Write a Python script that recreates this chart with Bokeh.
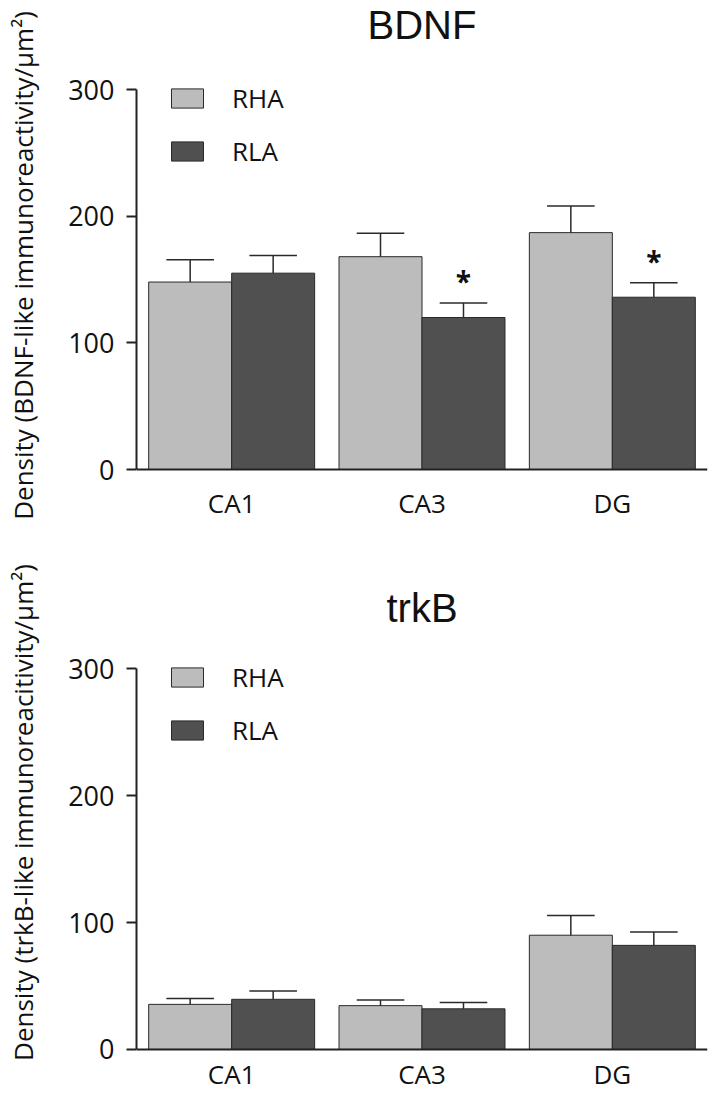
from bokeh.plotting import figure
from bokeh.models import ColumnDataSource, FactorRange, Range1d, FixedTicker, Legend, LegendItem, Span
from bokeh.transform import dodge
from bokeh.layouts import column
from bokeh.core.properties import value
from bokeh.embed import file_html
from bokeh.resources import INLINE

categories = ["CA1", "CA3", "DG"]
groups = ["RHA", "RLA"]

bdnf_rha = [148, 168, 187]
bdnf_rha_sem = [17.5, 18.5, 21]
bdnf_rla = [155, 120, 136]
bdnf_rla_sem = [14, 11.5, 11.5]
bdnf_sig = ["", "*", "*"]

trkb_rha = [35.5, 34.5, 90]
trkb_rha_sem = [4.7, 4.4, 15.5]
trkb_rla = [39.5, 32, 82]
trkb_rla_sem = [6.5, 5, 10.5]
trkb_sig = ["", "", ""]

y_ticks = [0, 100, 200, 300]
y_max = 300

RHA_COLOR = "#bcbcbc"
RLA_COLOR = "#505050"
EDGE = "#2a2a2a"
TXT = "#111111"
FONT = "Open Sans"
BAR_W = 0.436
OFF = 0.218
CAP = 0.125
PX = 380 / 300.0  # pixels per data unit


def make_panel(title, ylabel, rha, rha_sem, rla, rla_sem, sig, height,
               px_above, px_below, title_dy, label_dy, legend_y):
    y0 = -px_below / PX
    y1 = y_max + px_above / PX
    p = figure(x_range=FactorRange(*categories), y_range=Range1d(y0, y1),
               width=709, height=height, output_backend="svg", toolbar_location=None,
               x_axis_location=None,
               min_border_left=136, min_border_right=2, min_border_top=0,
               min_border_bottom=0)

    src = ColumnDataSource(dict(
        cat=categories,
        rha=rha, rha_up=[v + e for v, e in zip(rha, rha_sem)],
        rla=rla, rla_up=[v + e for v, e in zip(rla, rla_sem)],
        sig=sig,
    ))
    r1 = p.vbar(x=dodge("cat", -OFF, range=p.x_range), top="rha", bottom=0, width=BAR_W,
                source=src, fill_color=RHA_COLOR, line_color=EDGE, line_width=1)
    r2 = p.vbar(x=dodge("cat", OFF, range=p.x_range), top="rla", bottom=0, width=BAR_W,
                source=src, fill_color=RLA_COLOR, line_color=EDGE, line_width=1)

    for off, v, up in ((-OFF, "rha", "rha_up"), (OFF, "rla", "rla_up")):
        p.segment(x0=dodge("cat", off, range=p.x_range), y0=v,
                  x1=dodge("cat", off, range=p.x_range), y1=up,
                  source=src, line_color=EDGE, line_width=1.5)
        p.segment(x0=dodge("cat", off - CAP, range=p.x_range), y0=up,
                  x1=dodge("cat", off + CAP, range=p.x_range), y1=up,
                  source=src, line_color=EDGE, line_width=1.5)

    p.text(x=dodge("cat", OFF, range=p.x_range), y="rla_up", text="sig", source=src,
           text_font=value(FONT), text_font_size="28px", text_font_style="bold",
           text_align="center", text_baseline="bottom", y_offset=-3, text_color=TXT)

    # x axis line at zero
    p.add_layout(Span(location=0, dimension="width", line_color="#222222", line_width=2))

    # category labels (x axis tick labels)
    p.text(x="cat", y=0, text="cat", source=src, text_font=value(FONT),
           text_font_size="26px", text_align="center", text_baseline="alphabetic",
           y_offset=label_dy, text_color=TXT)

    # panel title
    p.text(x=[1.5], y=[y_max], text=[title], text_font=value("Liberation Sans"),
           text_font_size="40px", text_align="center", text_baseline="alphabetic",
           y_offset=title_dy, text_color=TXT)

    legend = Legend(items=[LegendItem(label=groups[0], renderers=[r1]),
                           LegendItem(label=groups[1], renderers=[r2])],
                    location=(31, legend_y), orientation="vertical",
                    glyph_width=40, glyph_height=24, label_height=24, spacing=17,
                    padding=0, margin=0, label_standoff=25,
                    border_line_alpha=0, background_fill_alpha=0,
                    label_text_font=FONT, label_text_font_size="26px",
                    label_text_color=TXT)
    p.add_layout(legend)

    p.xgrid.visible = False
    p.ygrid.visible = False
    p.outline_line_color = None

    ya = p.yaxis[0]
    ya.ticker = FixedTicker(ticks=y_ticks)
    ya.bounds = (0, y_max)
    ya.axis_line_width = 2
    ya.axis_line_color = "#222222"
    ya.major_tick_line_width = 2
    ya.major_tick_line_color = "#222222"
    ya.major_tick_out = 10
    ya.major_tick_in = 0
    ya.minor_tick_out = 0
    ya.minor_tick_in = 0
    ya.major_label_text_font = FONT
    ya.major_label_text_font_size = "27px"
    ya.major_label_text_color = TXT
    ya.major_label_standoff = 12
    ya.axis_label = ylabel
    ya.axis_label_text_font = FONT
    ya.axis_label_text_font_size = "26px"
    ya.axis_label_text_font_style = "normal"
    ya.axis_label_text_color = TXT
    ya.axis_label_standoff = 24
    return p


p1 = make_panel("BDNF", "Density (BDNF-like immunoreactivity/\u03bcm\u00b2)",
                bdnf_rha, bdnf_rha_sem, bdnf_rla, bdnf_rla_sem, bdnf_sig,
                530, 89, 61, -65, 33, 361)
p2 = make_panel("trkB", "Density (trkB-like immunoreacitivity/\u03bcm\u00b2)",
                trkb_rha, trkb_rha_sem, trkb_rla, trkb_rla_sem, trkb_sig,
                564, 138, 45, -61, 25, 346)

layout = column(p1, p2, spacing=0)
open("out.html", "w").write(file_html(layout, INLINE))
